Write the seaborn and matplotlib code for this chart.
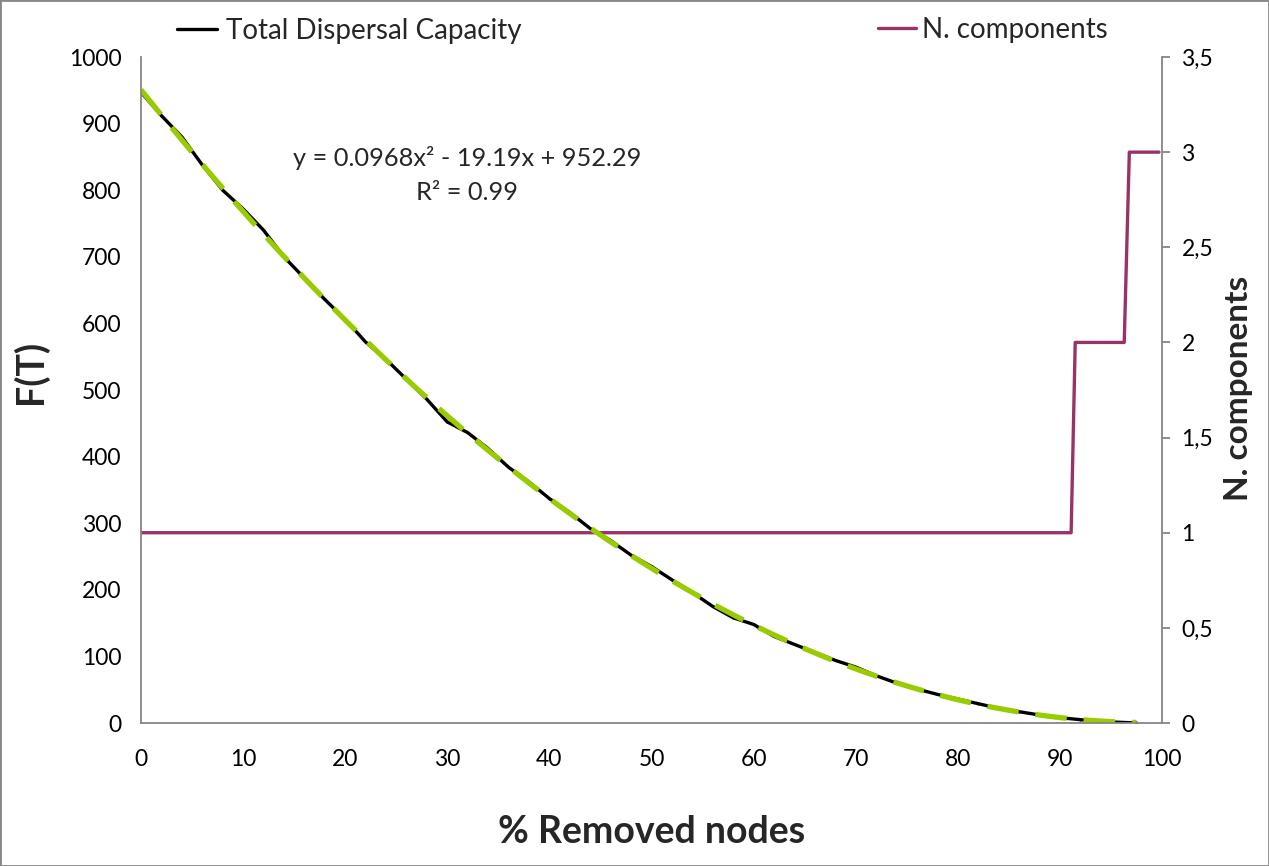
import numpy as np
import pandas as pd
import matplotlib
matplotlib.use("Agg")
import matplotlib.pyplot as plt
import seaborn as sns
from matplotlib.patches import Rectangle

# ---- data ----
removed_pct = [0, 2, 4, 6, 8, 10, 12, 14, 16, 18, 20, 22, 24, 26, 28, 30, 32, 34, 36, 38,
               40, 42, 44, 46, 48, 50, 52, 54, 56, 58, 60, 62, 64, 66, 68, 70, 72, 74, 76, 78,
               80, 82, 84, 86, 88, 90, 92, 94, 96, 97.5]
dispersal = [947, 912, 880, 838, 800, 772, 740, 700, 668, 636, 606, 572, 546, 516, 486, 452,
             436, 412, 384, 362, 337, 316, 292, 274, 252, 235, 215, 196, 175, 158, 148, 130,
             118, 106, 94, 84, 71, 60, 51, 43, 36, 29, 22, 17, 12, 8, 5, 2, 1, 0]
comp_x = [0, 91.1, 91.5, 96.3, 96.8, 99.7]
comp_y = [1, 1, 2, 2, 3, 3]

equation_text = "y = 0.0968x² - 19.19x + 952.29"
r2_text = "R² = 0.99"
x_ticks = [0, 10, 20, 30, 40, 50, 60, 70, 80, 90, 100]
left_ticks = [0, 100, 200, 300, 400, 500, 600, 700, 800, 900, 1000]
right_ticks = [0, 0.5, 1, 1.5, 2, 2.5, 3, 3.5]
right_tick_labels = ["0", "0,5", "1", "1,5", "2", "2,5", "3", "3,5"]

df = pd.DataFrame({"x": removed_pct, "y": dispersal})
dfc = pd.DataFrame({"x": comp_x, "y": comp_y})

sns.set_style("white")
plt.rcParams["font.family"] = ["Lato", "DejaVu Sans"]

W, H = 1269, 866
fig = plt.figure(figsize=(W / 100, H / 100), dpi=100)
L, R, B, T = 141, 1162, 723, 57
ax = fig.add_axes([L / W, 1 - B / H, (R - L) / W, (B - T) / H])
ax2 = ax.twinx()

spine_col = "#868686"
black = "#000000"
green = "#99CC00"
purple = "#993366"

# secondary series
sns.lineplot(data=dfc, x="x", y="y", ax=ax2, color=purple, lw=2.4,
             label="N. components", legend=False, estimator=None, sort=False)

# primary series
sns.lineplot(data=df, x="x", y="y", ax=ax, color=black, lw=2.4, marker=".", ms=3,
             markeredgewidth=0, label="Total Dispersal Capacity", legend=False,
             estimator=None)
sns.regplot(data=df, x="x", y="y", order=2, scatter=False, ci=None, ax=ax,
            line_kws=dict(color=green, lw=3.8, dashes=(6.0, 3.2)))

ax.set_zorder(ax2.get_zorder() + 1)
ax.patch.set_visible(False)

ax.set_xlim(0, 100)
ax.set_ylim(0, 1000)
ax2.set_ylim(0, 3.5)
ax.set_xticks(x_ticks)
ax.set_xticklabels([str(v) for v in x_ticks])
ax.set_yticks(left_ticks)
ax.set_yticklabels([str(v) for v in left_ticks])
ax2.set_yticks(right_ticks)
ax2.set_yticklabels(right_tick_labels)

for a in (ax, ax2):
    for s in a.spines.values():
        s.set_color(spine_col)
        s.set_linewidth(1.3)
    a.spines["top"].set_visible(False)
ax.spines["right"].set_visible(False)
ax2.spines["left"].set_visible(False)
ax2.spines["bottom"].set_visible(False)

ax.tick_params(axis="x", length=0, pad=19, labelsize=16.5, colors=black)
ax.tick_params(axis="y", length=0, pad=14, labelsize=16.5, colors=black)
ax2.tick_params(axis="y", length=6, width=1.3, color=spine_col, pad=8,
                labelsize=16.5, labelcolor=black, direction="out")
ax.grid(False)
ax2.grid(False)

ax.set_xlabel("% Removed nodes", fontsize=27, fontweight="bold")
ax.xaxis.set_label_coords(0.5, (B - 832) / (B - T))
ax.xaxis.label.set_va("center")
ax.set_ylabel("F(T)", fontsize=27, fontweight="bold")
ax.yaxis.set_label_coords((30 - L) / (R - L), (B - 372) / (B - T))
ax.yaxis.label.set_va("center")
ax2.set_ylabel("N. components", fontsize=24, fontweight="bold")
ax2.yaxis.set_label_coords((1238 - L) / (R - L), (B - 388) / (B - T))
ax2.yaxis.label.set_va("center")

ax.text((467 - L) / (R - L), (B - 158) / (B - T), equation_text, transform=ax.transAxes,
        ha="center", va="center", fontsize=18.3)
ax.text((467 - L) / (R - L), (B - 193) / (B - T), r2_text, transform=ax.transAxes,
        ha="center", va="center", fontsize=18.3)

h1, l1 = ax.get_legend_handles_labels()
h1 = [h for h, l in zip(h1, l1) if l == "Total Dispersal Capacity"]
leg1 = fig.legend(h1, ["Total Dispersal Capacity"], loc="center left",
                  bbox_to_anchor=(177 / W, 1 - 31 / H), frameon=False, fontsize=20,
                  handlelength=1.44, handletextpad=0.32, borderpad=0, borderaxespad=0)
h2, l2 = ax2.get_legend_handles_labels()
leg2 = fig.legend(h2, ["N. components"], loc="center left",
                  bbox_to_anchor=(878 / W, 1 - 30 / H), frameon=False, fontsize=20,
                  handlelength=1.37, handletextpad=0.22, borderpad=0, borderaxespad=0)

fig.patches.append(Rectangle((0, 0), 1, 1, transform=fig.transFigure, fill=False,
                             edgecolor="#888888", lw=2))

fig.savefig("out.png", dpi=100)
